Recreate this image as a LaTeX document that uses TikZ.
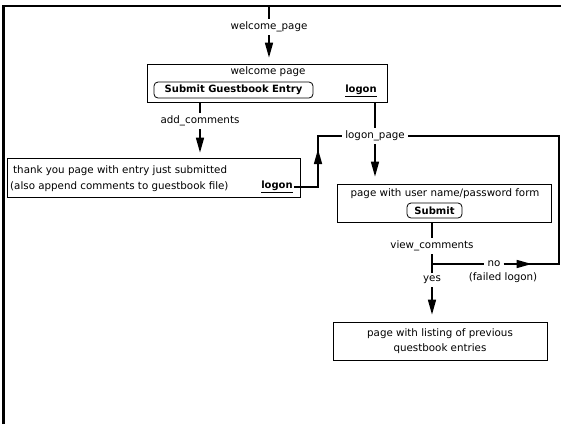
\documentclass[tikz,border=0pt]{standalone}
\usepackage{fontspec}
\setmainfont{DejaVu Sans}
\usetikzlibrary{arrows.meta,decorations.markings}

\begin{document}
\begin{tikzpicture}[x=1pt, y=-1pt,
  font=\fontsize{10.3}{12}\selectfont,
  box/.style={draw, line width=0.8pt, inner sep=0pt},
  button/.style={draw, line width=0.8pt, rounded corners=4pt, inner sep=0pt, font=\fontsize{10}{12}\selectfont\bfseries},
  link/.style={inner sep=1pt, font=\fontsize{10}{12}\selectfont\bfseries},
  lbl/.style={inner sep=3pt},
  wire/.style={line width=1.6pt},
  tip/.style={-{Triangle[length=15pt, width=8pt]}},
  tipat/.style={postaction={decorate}, decoration={markings,
    mark=at position #1 with {\arrow{Triangle[length=15pt, width=8pt]}}}}
]
\useasboundingbox (0,0) rectangle (561,424);

% Frame (top and left edges only)
\draw[line width=2.4pt] (3.5,424) -- (3.5,6) -- (561,6);

% Pages
\node[box, minimum width=240, minimum height=38] (welcome) at (267,83) {};
\node (welcomettl) at (268,72) {welcome page};
\node[button, minimum width=159, minimum height=16] (guestbtn) at (233.5,90) {Submit Guestbook Entry};
\node[link] (logonA) at (361,91) {\underline{logon}};

\node[box, minimum width=293, minimum height=39] (thanks) at (153.5,177.5) {};
\node[anchor=west, inner sep=0pt] (thanksA) at (13,171) {thank you page with entry just submitted};
\node[anchor=west, inner sep=0pt] (thanksB) at (10,187) {(also append comments to guestbook file)};
\node[link] (logonB) at (277,187) {\underline{logon}};

\node[box, minimum width=214, minimum height=38] (login) at (444,203) {};
\node (loginttl) at (445,194) {page with user name/password form};
\node[button, minimum width=55, minimum height=15] (submitbtn) at (434.5,210.5) {Submit};

\node[box, minimum width=214, minimum height=38] (listing) at (440,341) {};
\node[align=center, font=\fontsize{10.3}{15}\selectfont] (listingttl) at (440,341) {page with listing of previous\\questbook entries};

% Labels
\node[lbl] (welcomelbl) at (269,27) {welcome\_page};
\node[lbl] (addlbl) at (200,121) {add\_comments};
\node[lbl] (pagelbl) at (375,136) {logon\_page};
\node[lbl] (viewlbl) at (432,246) {view\_comments};
\node[lbl] (yeslbl) at (432,280) {yes};
\node[lbl] (nolbl) at (494,264) {no};
\node[inner sep=0pt] (failedlbl) at (503,278) {(failed logon)};

% Wires
\coordinate (entry) at (269,6);
\coordinate (riseB) at (318,136);
\coordinate (riseC) at (559,136);
\draw[wire] (entry) -- (welcomelbl);
\draw[wire, tip, shorten >=6pt] (welcomelbl) -- (welcomelbl |- welcome.north);
\draw[wire] (addlbl |- welcome.south) -- (addlbl);
\draw[wire, tip, shorten >=5pt] (addlbl) -- (addlbl |- thanks.north);
\draw[wire] (pagelbl |- welcome.south) -- (pagelbl);
\draw[wire, tip, shorten >=7pt] (pagelbl) -- (pagelbl |- login.north);
\draw[wire, tipat=62pt] (logonB.east) -| (riseB) -- (pagelbl.west);
\draw[wire] (viewlbl |- login.south) -- (viewlbl);
\draw[wire] (viewlbl) -- (yeslbl);
\draw[wire] (viewlbl.south |- nolbl) -- (nolbl);
\draw[wire, tipat=28pt] (nolbl.east) -| (riseC) -- (pagelbl.east);
\draw[wire, tip, shorten >=7pt] (yeslbl) -- (yeslbl |- listing.north);

\end{tikzpicture}
\end{document}
